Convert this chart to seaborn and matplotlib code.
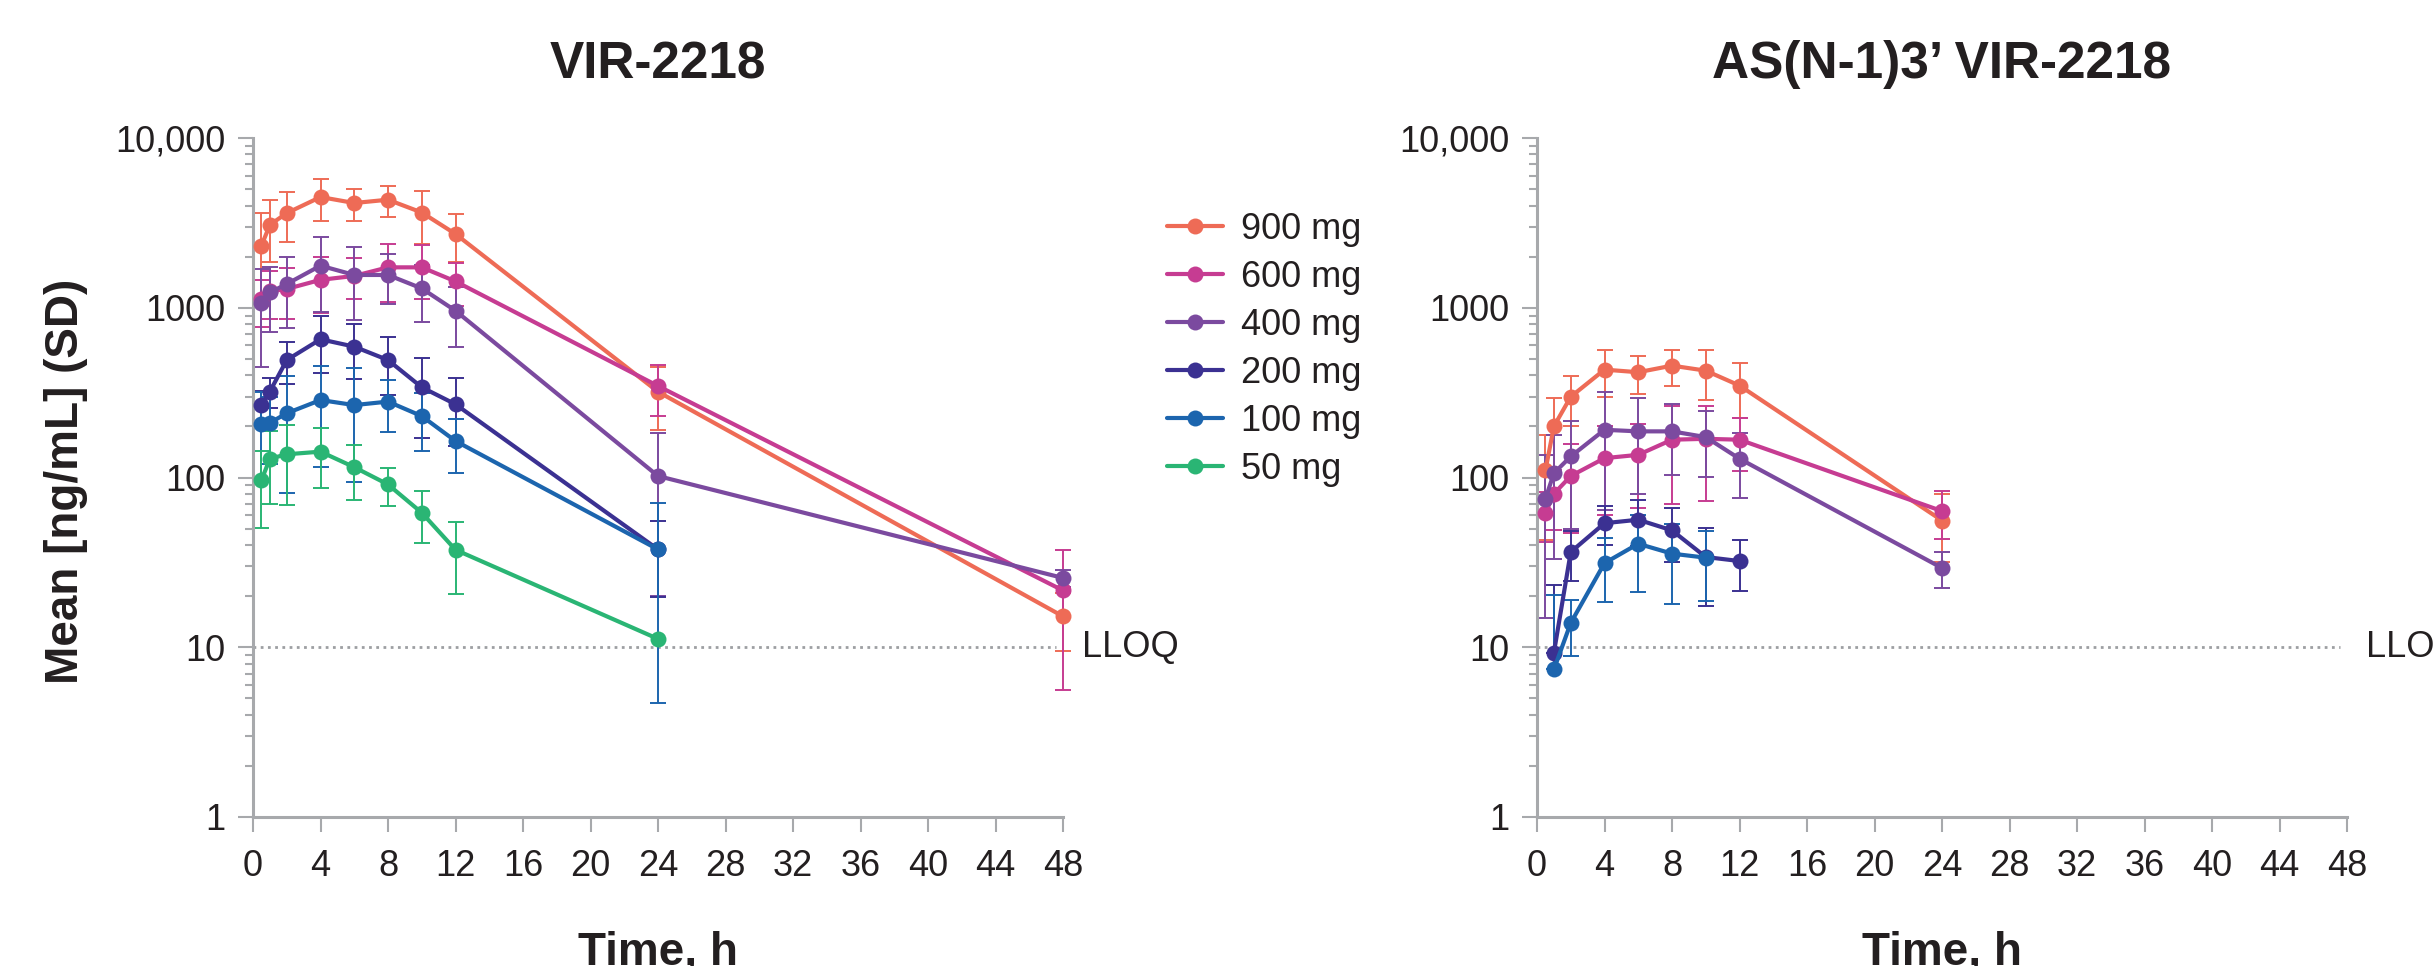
import numpy as np
import pandas as pd
import matplotlib
matplotlib.use("Agg")
import matplotlib.pyplot as plt
import seaborn as sns
from matplotlib.lines import Line2D
from matplotlib.ticker import FixedLocator, FixedFormatter, LogLocator, NullFormatter

# ---------------- data ----------------
DOSES = ["900 mg", "600 mg", "400 mg", "200 mg", "100 mg", "50 mg"]
COLORS = ["#EE6B56", "#C63C92", "#7B4A9F", "#3B3192", "#1C65AE", "#2AB574"]

TITLES = ["VIR-2218", "AS(N-1)3\u2019 VIR-2218"]
X_TICKS = [0, 4, 8, 12, 16, 20, 24, 28, 32, 36, 40, 44, 48]
Y_TICKS = [1, 10, 100, 1000, 10000]
Y_TICK_LABELS = ["1", "10", "100", "1000", "10,000"]
LLOQ = 10

# Parent VIR-2218
t_parent_long = [0.5, 1, 2, 4, 6, 8, 10, 12, 24, 48]
t_parent_short = [0.5, 1, 2, 4, 6, 8, 10, 12, 24]
p900_mean = [2320, 3080, 3610, 4490, 4140, 4330, 3640, 2720, 320, 15.2]
p900_sd = [1290, 1230, 1170, 1230, 890, 900, 1250, 870, 130, 5.7]
p600_mean = [1120, 1250, 1290, 1460, 1540, 1730, 1730, 1430, 346, 21.6]
p600_sd = [345, 390, 430, 525, 420, 650, 600, 400, 116, 16]
p400_mean = [1070, 1230, 1380, 1770, 1560, 1560, 1300, 960, 102, 25.6]
p400_sd = [620, 515, 620, 830, 715, 513, 475, 370, 82, 3]
p200_mean = [267, 321, 492, 652, 590, 492, 340, 270, 37.7]
p200_sd = [56, 63, 135, 240, 210, 184, 168, 117, 18]
p100_mean = [208, 210, 239, 286, 267, 280, 230, 164, 37.7]
p100_sd = [110, 90, 158, 170, 173, 95, 86, 58, 33]
p50_mean = [96.5, 129, 137, 142, 115, 91, 62, 37.5, 11.2]
p50_sd = [46, 59, 68, 55, 41, 23, 21, 17, 0]

# Metabolite AS(N-1)3' VIR-2218
t_met_high = [0.5, 1, 2, 4, 6, 8, 10, 12, 24]
t_met_200 = [1, 2, 4, 6, 8, 10, 12]
t_met_100 = [1, 2, 4, 6, 8, 10]
m900_mean = [110, 200, 299, 432, 417, 456, 426, 348, 55.8]
m900_sd = [67, 93, 99, 132, 105, 108, 140, 125, 24]
m600_mean = [61.7, 80.2, 102, 130, 136, 167, 169, 167, 63.4]
m600_sd = [20, 31, 55, 70, 70, 97, 96, 58, 20]
m400_mean = [74.9, 106, 133, 191, 187, 187, 173, 129, 29.3]
m400_sd = [60, 73, 83, 127, 107, 83, 72, 53, 7]
m200_mean = [9.26, 36.4, 53.8, 56.4, 48.8, 34, 32.2]
m200_sd = [14, 12, 14, 17, 17, 16.5, 10.7]
m100_mean = [7.4, 13.9, 31.3, 40.7, 35.6, 33.7]
m100_sd = [12.8, 5, 12.8, 19.5, 17.5, 15]


def build(series):
    rows = []
    for dose, times, mean, sd in series:
        for t, m, s in zip(times, mean, sd):
            rows.append({"dose": dose, "time": t, "mean": m, "sd": s})
    return pd.DataFrame(rows)


df_parent = build([
    ("900 mg", t_parent_long, p900_mean, p900_sd),
    ("600 mg", t_parent_long, p600_mean, p600_sd),
    ("400 mg", t_parent_long, p400_mean, p400_sd),
    ("200 mg", t_parent_short, p200_mean, p200_sd),
    ("100 mg", t_parent_short, p100_mean, p100_sd),
    ("50 mg", t_parent_short, p50_mean, p50_sd),
])
df_met = build([
    ("900 mg", t_met_high, m900_mean, m900_sd),
    ("600 mg", t_met_high, m600_mean, m600_sd),
    ("400 mg", t_met_high, m400_mean, m400_sd),
    ("200 mg", t_met_200, m200_mean, m200_sd),
    ("100 mg", t_met_100, m100_mean, m100_sd),
])

# ---------------- style ----------------
sns.set_style("ticks")
plt.rcParams["font.family"] = ["Liberation Sans", "DejaVu Sans"]
TEXT = "#231F20"
SPINE = "#A7A9AC"
palette = dict(zip(DOSES, COLORS))

W, H = 2433, 966
fig = plt.figure(figsize=(W / 100, H / 100), dpi=100)
ax_l = fig.add_axes([253 / W, 1 - 817 / H, 810 / W, 679 / H])
ax_r = fig.add_axes([1537 / W, 1 - 817 / H, 810 / W, 679 / H])


def draw(ax, df, title):
    ax.set_yscale("log")
    levels = [d for d in DOSES if d in set(df["dose"])]
    for dose in levels:
        sub = df[df["dose"] == dose]
        mean = sub["mean"].to_numpy()
        sd = sub["sd"].to_numpy()
        mask = sd > 0
        lo = np.where(mean - sd > 0, sd, 0)
        ax.errorbar(sub["time"].to_numpy()[mask], mean[mask],
                    yerr=[lo[mask], sd[mask]], fmt="none",
                    ecolor=palette[dose], elinewidth=1.4, capsize=6,
                    capthick=1.4, zorder=2)
    sns.lineplot(data=df, x="time", y="mean", hue="dose", hue_order=levels,
                 palette=palette, marker="o", markersize=11.5,
                 markeredgewidth=0, linewidth=3.0, estimator=None,
                 legend=False, ax=ax, zorder=3)
    ax.hlines(LLOQ, 0, 47.6, colors="#9D9FA2", linestyles=(0, (1, 1.6)),
              linewidth=2.0, zorder=1)
    ax.text(49.1, LLOQ, "LLOQ", fontsize=26, color=TEXT, va="center",
            ha="left", clip_on=False)
    for art in ax.lines + ax.collections:
        art.set_clip_on(False)

    ax.set_xlim(0, 48)
    ax.set_ylim(1, 10000)
    ax.xaxis.set_major_locator(FixedLocator(X_TICKS))
    ax.yaxis.set_major_locator(FixedLocator(Y_TICKS))
    ax.yaxis.set_major_formatter(FixedFormatter(Y_TICK_LABELS))
    ax.yaxis.set_minor_locator(LogLocator(base=10, subs=np.arange(2, 10)))
    ax.yaxis.set_minor_formatter(NullFormatter())
    ax.tick_params(axis="both", which="major", length=11, width=1.5,
                   color=SPINE, labelsize=26, labelcolor=TEXT, pad=9)
    ax.tick_params(axis="y", which="minor", length=5.5, width=1.5, color=SPINE)
    ax.tick_params(axis="x", pad=12)
    sns.despine(ax=ax)
    for side in ("left", "bottom"):
        ax.spines[side].set_color(SPINE)
        ax.spines[side].set_linewidth(2.2)
    ax.set_xlabel("Time, h", fontsize=33, fontweight="bold", color=TEXT)
    ax.xaxis.set_label_coords(0.5, -0.168)
    ax.set_ylabel("")
    ax.set_title(title, fontsize=37, fontweight="bold", color=TEXT,
                 y=1.088, pad=0)


draw(ax_l, df_parent, TITLES[0])
draw(ax_r, df_met, TITLES[1])

ax_l.set_ylabel("Mean [ng/mL] (SD)", fontsize=33, fontweight="bold",
                color=TEXT)
ax_l.yaxis.set_label_coords(-0.204, 0.495)

handles = [Line2D([], [], color=c, marker="o", markersize=11.5,
                  markeredgewidth=0, linewidth=3.0) for c in COLORS]
fig.legend(handles, DOSES, loc="upper left", bbox_to_anchor=(1167 / W, 1 - 212 / H),
           frameon=False, borderpad=0, borderaxespad=0, handlelength=1.55,
           handletextpad=0.5, labelspacing=0.36, fontsize=26,
           labelcolor=TEXT)

fig.savefig("out.png", dpi=100)
